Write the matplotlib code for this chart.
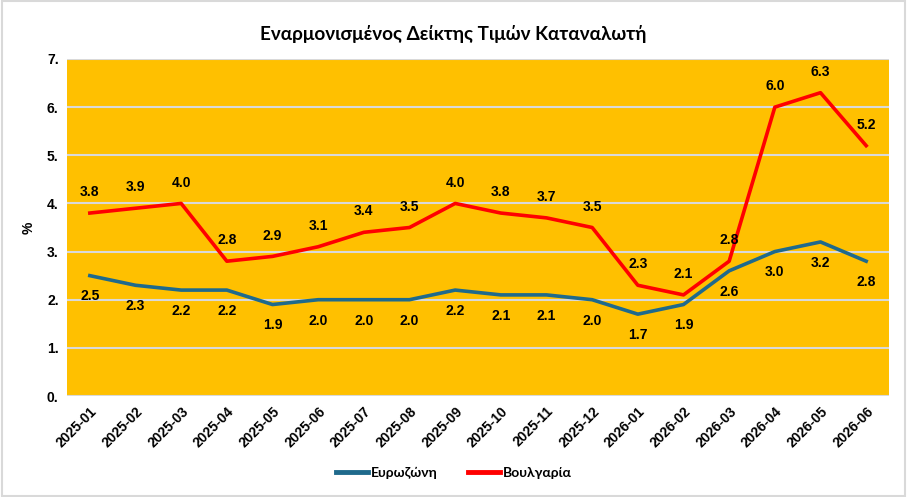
import numpy as np
import matplotlib
matplotlib.use("Agg")
import matplotlib.pyplot as plt
from matplotlib.patches import Rectangle

months = ['2025-01', '2025-02', '2025-03', '2025-04', '2025-05', '2025-06',
          '2025-07', '2025-08', '2025-09', '2025-10', '2025-11', '2025-12',
          '2026-01', '2026-02', '2026-03', '2026-04', '2026-05', '2026-06']
eurozone = [2.5, 2.3, 2.2, 2.2, 1.9, 2.0, 2.0, 2.0, 2.2, 2.1, 2.1, 2.0,
            1.7, 1.9, 2.6, 3.0, 3.2, 2.8]
bulgaria = [3.8, 3.9, 4.0, 2.8, 2.9, 3.1, 3.4, 3.5, 4.0, 3.8, 3.7, 3.5,
            2.3, 2.1, 2.8, 6.0, 6.3, 5.2]
yticks = [0, 1, 2, 3, 4, 5, 6, 7]

blue = '#1F6A8C'
red = '#FF0000'
bg = '#FFC000'
lbl = dict(fontsize=10, fontweight='bold', family='Liberation Sans')

fig = plt.figure(figsize=(9.07, 4.97), dpi=100)
ax = fig.add_axes([67 / 907, 1 - 396 / 497, (889 - 67) / 907, (396 - 59) / 497])
ax.set_facecolor(bg)

x = np.arange(len(months))
ax.plot(x, eurozone, color=blue, lw=2.6, label='Ευρωζώνη', zorder=3)
ax.plot(x, bulgaria, color=red, lw=2.6, label='Βουλγαρία', zorder=3)

for i in x:
    ax.annotate(f'{eurozone[i]:.1f}', (i, eurozone[i]), xytext=(0, -15),
                textcoords='offset points', ha='center', va='center', **lbl)
    ax.annotate(f'{bulgaria[i]:.1f}', (i, bulgaria[i]), xytext=(0, 15),
                textcoords='offset points', ha='center', va='center', **lbl)

ax.set_xlim(-0.5, len(months) - 0.5)
ax.set_ylim(0, 7)
ax.set_yticks(yticks)
ax.set_yticklabels([f'{v}.' for v in yticks], **lbl)
ax.set_xticks(x)
ax.set_xticklabels(months, rotation=45, ha='right', rotation_mode='anchor', **lbl)
ax.tick_params(length=0, pad=6)
ax.grid(axis='y', color='#D9D9D9', lw=1.5)
ax.set_axisbelow(True)
for s in ax.spines.values():
    s.set_visible(False)
ax.set_ylabel('%', labelpad=8, **lbl)

fig.suptitle('Εναρμονισμένος Δείκτης Τιμών Καταναλωτή', y=0.95, fontsize=13.6,
             fontweight='bold', family=['Lato', 'Open Sans', 'DejaVu Sans'])

leg = fig.legend(loc='center', bbox_to_anchor=(0.5, 1 - 473 / 497), ncol=2,
                 frameon=False, handlelength=2.3, handletextpad=0.2,
                 columnspacing=2.2,
                 prop={'family': ['Lato', 'Open Sans', 'DejaVu Sans'],
                       'weight': 'bold', 'size': 10})
for h in leg.legend_handles:
    h.set_linewidth(3.5)

fig.patches.append(Rectangle((0.002, 0.003), 0.996, 0.994, transform=fig.transFigure,
                             fill=False, edgecolor='#D9D9D9', lw=1.5))

fig.savefig('out.png', dpi=100, facecolor='white')
